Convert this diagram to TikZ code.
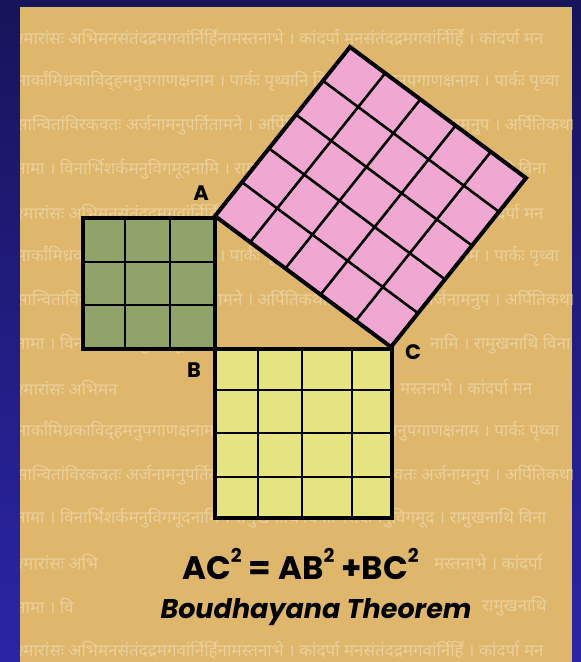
\documentclass[tikz,border=0pt]{standalone}
\usepackage{fontspec}
\usetikzlibrary{calc}
\newfontfamily\pop{Poppins}
\newfontfamily\deva[Script=Devanagari]{Noto Sans}
\definecolor{navytop}{HTML}{17145A}
\definecolor{navybot}{HTML}{2B25A6}
\definecolor{parch}{HTML}{DEB66C}
\definecolor{pinkf}{HTML}{F0A8D2}
\definecolor{greenf}{HTML}{8FA368}
\definecolor{yellowf}{HTML}{E6E480}
\definecolor{bgtext}{HTML}{F6E6C2}
\def\lnA{श्मारांसः अभिमनसंतंदद्रमगवांर्निर्हिंनामस्तनाभे । कांदर्पा मनसंतंदद्रमगवांर्निर्हिं । कांदर्पा मन}
\def\lnB{मार्कांमिध्रकाविद्हमनुपगाणक्षनाम । पार्कः पृथ्वानि मिध्रकाविद्हमनुपगाणक्षनाम । पार्कः पृथ्वा}
\def\lnC{सान्वितांविरकवतः अर्जनामनुपर्तितामने । अर्पितिकथामिनि विरकवतः अर्जनामनुप । अर्पितिकथा}
\def\lnD{नामा । विनार्भिशर्कमनुविगमूदनामि । रामुखनाथि विनार्भिशर्कमनुविगमूद । रामुखनाथि विना}
\newcommand\sqr{\raisebox{0.5em}{\fontsize{19}{19}\selectfont 2}}
\tikzset{
  outline/.style={draw=black, line width=4pt, line join=miter},
  gridline/.style={draw=black, line width=2.6pt},
  lab/.style={font=\pop\bfseries\fontsize{21}{21}\selectfont, inner sep=0pt},
  bgline/.style={font=\deva\fontsize{17}{17}\selectfont, text=bgtext, text opacity=0.55, anchor=west, inner sep=0pt},
}
\begin{document}
\begin{tikzpicture}[x=1pt,y=-1pt]
\useasboundingbox (0,0) rectangle (581,662);
\shade[top color=navytop, bottom color=navybot] (0,0) rectangle (581,662);
\fill[parch] (20,7) rectangle (572,662);
\begin{scope}
  \clip (20,7) rectangle (572,662);
  \foreach \i/\yy/\t in {1/38/\lnA, 2/81.7/\lnB, 3/125.4/\lnC, 4/169/\lnD,
     5/212.8/\lnA, 6/256.5/\lnB, 7/300/\lnC,
     10/431/\lnB, 11/475/\lnC, 12/518.7/\lnD, 15/650/\lnA}
    \node[bgline] (bg\i) at (16,\yy) {\t};
  \node[bgline] (bg8a) at (16,344) {नामा । विनार्भिशर्कमनुविगमूद};
  \node[bgline] (bg8b) at (430,344) {नामि । रामुखनाथि विना};
  \node[bgline] (bg9a) at (16,387.6) {श्मारांसः अभिमन};
  \node[bgline] (bg9b) at (400,387.6) {मस्तनाभे । कांदर्पा मन};
  \node[bgline] (bg13a) at (16,562) {श्मारांसः अभि};
  \node[bgline] (bg13b) at (434,562) {मस्तनाभे । कांदर्पा};
  \node[bgline] (bg14a) at (16,606) {नामा । वि};
  \node[bgline] (bg14b) at (482,606) {रामुखनाथि};
\end{scope}
% triangle corners
\coordinate (A) at (215,216);
\coordinate (B) at (215,349);
\coordinate (C) at (391,347);
\coordinate (P) at (350,47);
\coordinate (Q) at (526,178);
% pink square on AC
\fill[pinkf] (A) -- (C) -- (Q) -- (P) -- cycle;
\foreach \k in {1,2,3,4} {
  \draw[gridline] ($(A)!\k/5!(C)$) -- ($(P)!\k/5!(Q)$);
  \draw[gridline] ($(A)!\k/5!(P)$) -- ($(C)!\k/5!(Q)$);
}
\draw[outline] (A) -- (C) -- (Q) -- (P) -- cycle;
% green square on AB
\fill[greenf] (83,218) rectangle (215,349);
\foreach \x in {125,170} \draw[gridline] (\x,218) -- (\x,349);
\foreach \y in {262,305} \draw[gridline] (83,\y) -- (215,\y);
\draw[outline] (83,218) rectangle (215,349);
% yellow square on BC
\fill[yellowf] (215,349) rectangle (392,518);
\foreach \x in {258,302,352} \draw[gridline] (\x,349) -- (\x,518);
\foreach \y in {390,433,477} \draw[gridline] (215,\y) -- (392,\y);
\draw[outline] (215,349) rectangle (392,518);
% labels
\node[lab] (labA) at (201,193) {A};
\node[lab] (labB) at (194,370) {B};
\node[lab] (labC) at (413,352) {C};
\node[font=\pop\bfseries\fontsize{32.5}{32.5}\selectfont, inner sep=0pt, anchor=base west] (eq) at (182,579)
  {AC\sqr\ = AB\sqr\ +BC\sqr};
\node[font=\pop\bfseries\itshape\fontsize{27}{27}\selectfont, inner sep=0pt, anchor=base] (thm) at (316,618)
  {Boudhayana Theorem};
\end{tikzpicture}
\end{document}
